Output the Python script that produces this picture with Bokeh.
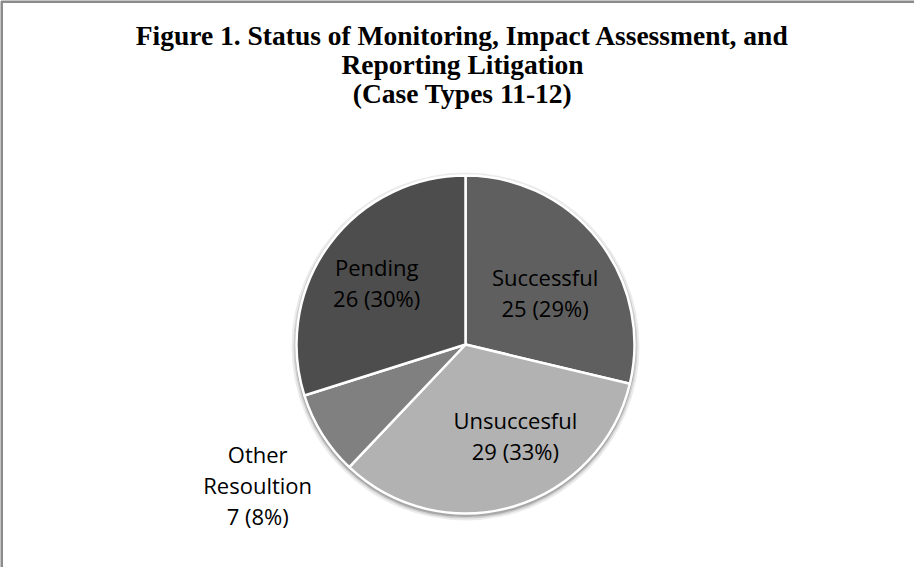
import numpy as np
from bokeh.plotting import figure
from bokeh.models import Range1d, ColumnDataSource
from bokeh.core.properties import value
from bokeh.embed import file_html
from bokeh.resources import INLINE

# ---- data ----
categories = ["Successful", "Unsuccesful", "Other\nResoultion", "Pending"]
counts = [25, 29, 7, 26]
percents = ["29%", "33%", "8%", "30%"]
colors = ["#5f5f5f", "#b2b2b2", "#808080", "#4d4d4d"]
title_lines = ["Figure 1. Status of Monitoring, Impact Assessment, and",
               "Reporting Litigation",
               "(Case Types 11-12)"]

# ---- layout (figure pixel space, y up) ----
W, H = 914, 567
cx, cy, R = 465, 223, 169
label_r = [0.6, 0.6, 1.5, 0.6]
nudge = [(0, -11), (21, 6), (7, -6), (-7, 2)]
LH = 31          # label line spacing
TH = 29          # title line spacing

p = figure(width=W, height=H, output_backend="svg", toolbar_location=None,
           x_range=Range1d(0, W), y_range=Range1d(0, H),
           min_border=0, outline_line_color=None, tools="")
p.axis.visible = False
p.grid.visible = False
p.background_fill_color = "white"
p.border_fill_color = "white"

# chart border (left and top edges visible in reference)
p.line(x=[1, 1, W], y=[0, H - 1, H - 1], line_color="#8c8c8c", line_width=3)

total = sum(counts)
frac = np.array(counts) / total
cum = np.concatenate([[0], np.cumsum(frac)])
start = np.pi / 2 - 2 * np.pi * cum[:-1]
end = np.pi / 2 - 2 * np.pi * cum[1:]
mid = (cum[:-1] + cum[1:]) / 2 * 2 * np.pi  # clockwise from top

# soft shadow
for rr, a in [(R + 5, 0.08), (R + 3, 0.12), (R + 1.5, 0.18)]:
    p.circle(x=[cx], y=[cy - 2], radius=rr, fill_color="#000000", fill_alpha=a,
             line_color=None)

src = ColumnDataSource(dict(start=start, end=end, color=colors))
p.wedge(x=cx, y=cy, radius=R, start_angle="start", end_angle="end",
        direction="clock", fill_color="color", line_color="white",
        line_width=2.5, source=src)

lx, ly, lt = [], [], []
for i in range(len(counts)):
    d = label_r[i] * R
    bx = cx + d * np.sin(mid[i]) + nudge[i][0]
    by = cy + d * np.cos(mid[i]) + nudge[i][1]
    lines = categories[i].split("\n") + [f"{counts[i]} ({percents[i]})"]
    n = len(lines)
    for k, t in enumerate(lines):
        lx.append(bx)
        ly.append(by + ((n - 1) / 2 - k) * LH)
        lt.append(t)

p.text(x=lx, y=ly, text=lt, text_align="center", text_baseline="middle",
       text_font=value("Open Sans"), text_font_size="22px", text_color="#000000")

tx = [W / 2 + 5] * 3
ty = [H + 8 - 43 - k * TH for k in range(3)]
p.text(x=tx, y=ty, text=title_lines, text_align="center",
       text_baseline="middle", text_font=value("Liberation Serif"),
       text_font_style="bold", text_font_size="27.5px", text_color="#000000")

open("out.html", "w").write(file_html(p, INLINE))
